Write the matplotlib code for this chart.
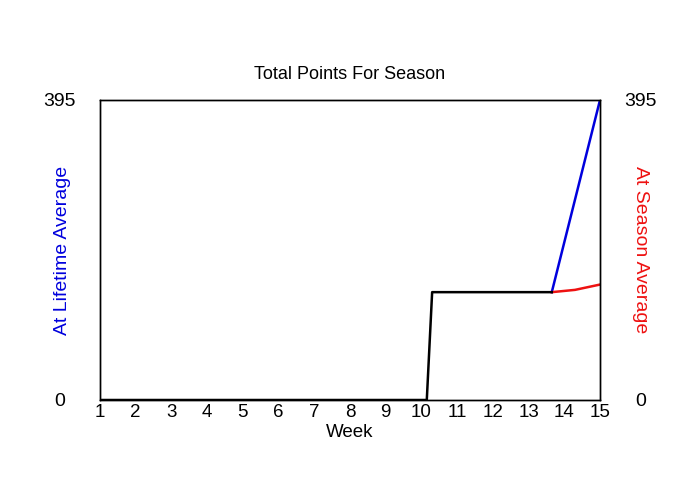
import matplotlib
matplotlib.use("Agg")
import matplotlib.pyplot as plt

plt.rcParams["font.family"] = ["Liberation Sans", "DejaVu Sans"]

# weekly totals
semanas_real = [1, 10.15, 10.3, 13.65]
pontos_real = [0, 0, 142, 142]

semanas_vida = [13.65, 15]
pontos_vida = [142, 395]

semanas_temporada = [13.65, 14.3, 15]
pontos_temporada = [142, 145, 152]

semanas_ticks = list(range(1, 16))
y_max = 395

fig = plt.figure(figsize=(7, 5), dpi=100)
ax = fig.add_axes([100 / 700, 0.2, 500 / 700, 0.6])

ax.plot(semanas_vida, pontos_vida, color="#0000dd", lw=1.8)
ax.plot(semanas_temporada, pontos_temporada, color="#ee1111", lw=1.8)
ax.plot(semanas_real, pontos_real, color="black", lw=1.8)

ax.set_xlim(1, 15)
ax.set_ylim(0, y_max)
ax.set_xticks(semanas_ticks)
ax.set_xticklabels([str(s) for s in semanas_ticks], fontsize=13.5)
ax.tick_params(axis="x", length=0, pad=3)
ax.set_xlabel("Week", fontsize=13.5, labelpad=2)

# numeros dos cantos centrados a ~40 px do eixo
ax.set_yticks([0, y_max])
ax.set_yticklabels(["0", str(y_max)], fontsize=14, ha="center")
ax.tick_params(axis="y", length=0, pad=29)
ax.set_ylabel("At Lifetime Average", color="#0000dd", fontsize=14, va="center")
ax.yaxis.set_label_coords(-0.075, 0.5)

ax2 = ax.twinx()
ax2.set_ylim(0, y_max)
ax2.set_yticks([0, y_max])
ax2.set_yticklabels(["0", str(y_max)], fontsize=14, ha="center")
ax2.tick_params(axis="y", length=0, pad=29)
ax2.set_ylabel("At Season Average", color="#ee1111", fontsize=14, rotation=-90, va="center")
ax2.yaxis.set_label_coords(1.08, 0.5)

for eixo in (ax, ax2):
    for lado in eixo.spines.values():
        lado.set_linewidth(1.0)

ax.set_title("Total Points For Season", fontsize=13, pad=15)

fig.savefig("out.png", dpi=100)
